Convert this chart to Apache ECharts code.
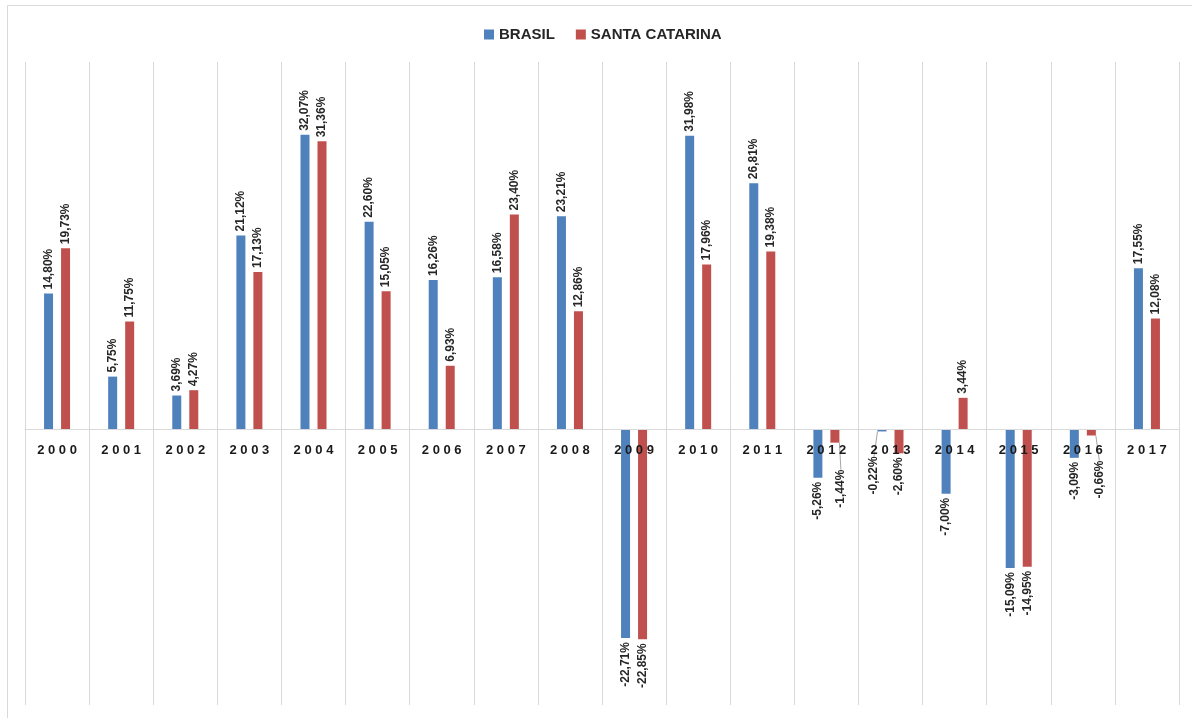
<!DOCTYPE html>
<html>
<head>
<meta charset="utf-8">
<script src="https://cdn.jsdelivr.net/npm/echarts@6/dist/echarts.min.js"></script>
<style>
  html, body { margin: 0; padding: 0; background: #fff; }
  #chart { width: 1192px; height: 718px; }
</style>
</head>
<body>
<div id="chart"></div>
<script>
const years = ['2000', '2001', '2002', '2003', '2004', '2005', '2006', '2007', '2008',
  '2009', '2010', '2011', '2012', '2013', '2014', '2015', '2016', '2017'];
const brasil = [14.80, 5.75, 3.69, 21.12, 32.07, 22.60, 16.26, 16.58, 23.21,
  -22.71, 31.98, 26.81, -5.26, -0.22, -7.00, -15.09, -3.09, 17.55];
const santaCatarina = [19.73, 11.75, 4.27, 17.13, 31.36, 15.05, 6.93, 23.40, 12.86,
  -22.85, 17.96, 19.38, -1.44, -2.60, 3.44, -14.95, -0.66, 12.08];

const yMin = -30;
const yMax = 40;

// labels that Excel pulled away from tiny bars (screen offsets), with a leader line
const movedLabels = {
  '0-13': { sx: -8, sy: 21 },
  '1-12': { sx: 6, sy: 23 },
  '1-16': { sx: 8, sy: 21 }
};

const font = 'Liberation Sans';
const gridTop = 62;
const gridBottom = 13;
const chartHeight = 718;

function fmt(v) {
  return v.toFixed(2).replace('.', ',') + '%';
}

function buildData(values, seriesIndex) {
  return values.map((v, i) => {
    const item = {
      value: v,
      label: v >= 0
        ? { position: 'top', align: 'left' }
        : { position: 'bottom', align: 'right' }
    };
    if (movedLabels[seriesIndex + '-' + i]) {
      item.labelLine = { show: true };
    }
    return item;
  });
}

const barLabel = {
  show: true,
  rotate: 90,
  verticalAlign: 'middle',
  distance: 4,
  fontFamily: font,
  fontWeight: 'bold',
  fontSize: 12,
  color: '#262626',
  formatter: (p) => fmt(p.value)
};

// put the category axis on the zero line (offset from the grid bottom)
const plotHeight = chartHeight - gridTop - gridBottom;
const zeroOffset = -plotHeight * (0 - yMin) / (yMax - yMin);

const chart = echarts.init(document.getElementById('chart'));

chart.setOption({
  backgroundColor: '#fff',
  animation: false,
  graphic: [{
    type: 'rect',
    shape: { x: 7.5, y: 5.5, width: 1200, height: 720 },
    style: { fill: 'none', stroke: '#d9d9d9', lineWidth: 1 },
    silent: true
  }],
  legend: {
    top: 22,
    left: 479,
    itemWidth: 10,
    itemHeight: 10,
    itemGap: 21,
    icon: 'rect',
    textStyle: {
      fontFamily: font,
      fontWeight: 'bold',
      fontSize: 15,
      color: '#262626'
    },
    data: ['BRASIL', 'SANTA CATARINA']
  },
  grid: {
    left: 25,
    right: 13,
    top: gridTop,
    bottom: gridBottom,
    containLabel: false,
    outerBoundsMode: 'none'
  },
  xAxis: {
    type: 'category',
    data: years,
    position: 'bottom',
    offset: zeroOffset,
    z: 5,
    axisLine: { onZero: false, lineStyle: { color: '#d9d9d9', width: 1 } },
    axisTick: { show: false },
    splitLine: { show: true, lineStyle: { color: '#d9d9d9', width: 1 } },
    axisLabel: {
      margin: 14,
      fontFamily: font,
      fontWeight: 'bold',
      fontSize: 13,
      color: '#1a1a1a',
      formatter: (v) => v.split('').join(' ')
    }
  },
  yAxis: {
    type: 'value',
    min: yMin,
    max: yMax,
    axisLine: { show: false },
    axisTick: { show: false },
    axisLabel: { show: false },
    splitLine: { show: false }
  },
  series: [
    {
      name: 'BRASIL',
      type: 'bar',
      barWidth: 9,
      barGap: '89%',
      itemStyle: { color: '#4f81bd' },
      label: barLabel,
      labelLine: { show: false, lineStyle: { color: '#a6a6a6', width: 1 } },
      data: buildData(brasil, 0)
    },
    {
      name: 'SANTA CATARINA',
      type: 'bar',
      barWidth: 9,
      barGap: '89%',
      itemStyle: { color: '#c0504d' },
      label: barLabel,
      labelLine: { show: false, lineStyle: { color: '#a6a6a6', width: 1 } },
      data: buildData(santaCatarina, 1)
    }
  ],
  labelLayout: function (params) {
    const m = movedLabels[params.seriesIndex + '-' + params.dataIndex];
    if (m) {
      // the label frame is rotated 90deg, so screen offsets map onto it turned
      return { dx: -m.sy, dy: m.sx };
    }
    return {};
  }
});
</script>
</body>
</html>
